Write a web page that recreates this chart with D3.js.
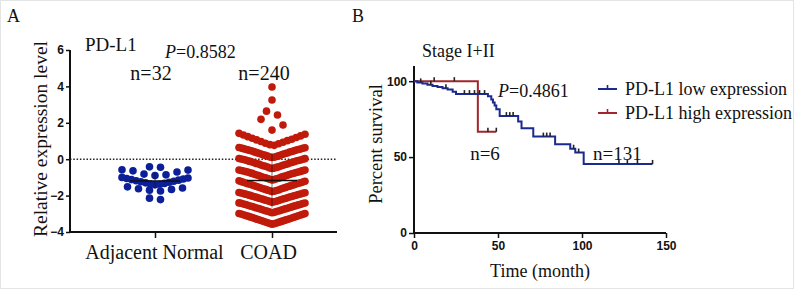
<!DOCTYPE html>
<html>
<head>
<meta charset="utf-8">
<script src="https://cdn.jsdelivr.net/npm/d3@7"></script>
<style>
  body { margin: 0; background: #fff; }
  svg { display: block; }
  .serif { font-family: "Liberation Serif", "Times New Roman", serif; fill: #111; }
</style>
</head>
<body>
<svg id="chart" width="794" height="289"></svg>
<script>
// ---- panel A data: relative expression level ----
const categories = ["Adjacent Normal", "COAD"];
const groupColors = ["#0c1f98", "#c01a0a"];

const normalValues = [
  -0.44, -0.42,
  -0.90, -0.86, -0.82, -0.70, -0.64, -0.60, -0.58,
  -1.40, -1.38, -1.36, -1.33, -1.30, -1.27, -1.24, -1.21, -1.18, -1.15, -1.12, -1.09, -1.06, -1.03, -1.00,
  -1.75, -1.70, -1.66, -1.62, -1.58, -1.52,
  -2.22, -2.14
];

const coadValues = [
  3.97, 3.25, 2.64, 2.43, 2.19, 1.88, 1.60,
  0.76, 0.80, 0.85, 0.88, 0.93, 0.97, 1.02, 1.06, 1.10, 1.15, 1.19, 1.24, 1.28, 1.33, 1.37, 1.42,
  0.09, 0.11, 0.12, 0.15, 0.17, 0.18, 0.21, 0.23, 0.24, 0.27, 0.28, 0.31, 0.33, 0.34, 0.36, 0.39,
  0.40, 0.42, 0.45, 0.46, 0.48, 0.50, 0.51, 0.53, 0.55, 0.56, 0.58, 0.60, 0.61, 0.63, 0.64,
  -0.51, -0.49, -0.48, -0.45, -0.43, -0.42, -0.39, -0.37, -0.36, -0.33, -0.32, -0.29, -0.27, -0.26, -0.24, -0.21,
  -0.20, -0.18, -0.15, -0.14, -0.12, -0.10, -0.09, -0.07, -0.05, -0.04, -0.02, 0.00, 0.01, 0.03, 0.04,
  -1.14, -1.12, -1.10, -1.08, -1.06, -1.05, -1.02, -1.00, -0.99, -0.96, -0.95, -0.92, -0.90, -0.88, -0.87, -0.84,
  -0.83, -0.80, -0.78, -0.77, -0.75, -0.73, -0.71, -0.70, -0.68, -0.67, -0.65, -0.63, -0.62, -0.60, -0.59,
  -1.78, -1.76, -1.74, -1.72, -1.70, -1.69, -1.66, -1.64, -1.62, -1.60, -1.58, -1.56, -1.54, -1.52, -1.50, -1.48,
  -1.46, -1.44, -1.42, -1.40, -1.38, -1.36, -1.35, -1.32, -1.31, -1.29, -1.27, -1.25, -1.23, -1.21, -1.19,
  -2.36, -2.34, -2.32, -2.31, -2.28, -2.27, -2.25, -2.23, -2.21, -2.19, -2.17, -2.16, -2.14, -2.12, -2.10, -2.08,
  -2.06, -2.05, -2.03, -2.01, -1.99, -1.98, -1.96, -1.94, -1.92, -1.91, -1.89, -1.87, -1.86, -1.84, -1.83,
  -2.94, -2.92, -2.90, -2.88, -2.86, -2.85, -2.83, -2.81, -2.79, -2.77, -2.75, -2.73, -2.71, -2.70, -2.68, -2.66,
  -2.64, -2.62, -2.60, -2.58, -2.57, -2.55, -2.53, -2.51, -2.49, -2.48, -2.46, -2.44, -2.42, -2.41, -2.40,
  -3.57, -3.55, -3.53, -3.51, -3.49, -3.47, -3.45, -3.43, -3.41, -3.39, -3.37, -3.35, -3.33, -3.31, -3.29, -3.27,
  -3.25, -3.23, -3.21, -3.19, -3.17, -3.15, -3.13, -3.11, -3.09, -3.07, -3.05, -3.03, -3.01, -2.99, -2.98
];

// row boundaries used by the scatter-dot layout
const normalRowBreaks = [-1.9, -1.45, -0.96, -0.5];
const coadRowBreaks = [-2.96, -2.38, -1.8, -1.16, -0.54, 0.065, 0.7, 1.5, 2.3, 2.9, 3.6];
const exprTicks = [-4, -2, 0, 2, 4, 6];

// ---- panel B data: Kaplan-Meier, stage I+II ----
const lowTimes = [0, 2, 5, 8, 11, 14, 17, 20, 23, 25, 44, 46, 47, 48, 49, 51, 62, 64, 71, 84, 93, 96, 101];
const lowSurv = [100, 99.2, 98.5, 97.7, 96.9, 96.2, 95.4, 94.6, 93.1, 91.5, 90.0, 88.0, 86.0, 84.0, 81.5, 77.0, 73.5, 69.0, 63.5, 58.5, 55.5, 53.0, 45.5];
const lowCensor = [4, 10, 19, 30, 33, 36, 39, 42, 55, 57, 59, 77, 79, 81, 95, 98, 122, 127, 133, 142];
const lowEnd = 142;

const highTimes = [0, 38];
const highSurv = [100, 66.7];
const highCensor = [12, 24, 44, 49];
const highEnd = 49;

const survTicks = [0, 50, 100];
const timeTicks = [0, 50, 100, 150];
const kmColors = { low: "#1b2a8e", high: "#a1262a" };

const svg = d3.select("#chart");
svg.append("rect").attr("x", 0.5).attr("y", 0.5).attr("width", 793).attr("height", 288)
    .attr("fill", "#fff").attr("stroke", "#e4e4e4");

function styleTicks(g) {
    g.select(".domain").remove();
    g.selectAll(".tick line").attr("stroke", "#111").attr("stroke-width", 1.5);
    g.selectAll(".tick text")
        .style("font-family", "'Liberation Sans', Arial, sans-serif")
        .style("font-weight", "bold").style("font-size", "12px").attr("fill", "#111");
}

// ================= Panel A =================
const yA = d3.scaleLinear().domain([-4, 6]).range([232, 50]);
const xA = d3.scalePoint().domain(categories).range([155, 272]);
const gA = svg.append("g");

gA.append("text").attr("class", "serif").attr("x", 7).attr("y", 22).attr("font-size", 18).text("A");

// zero reference line
gA.append("line")
    .attr("x1", 70).attr("x2", 337).attr("y1", yA(0)).attr("y2", yA(0))
    .attr("stroke", "#222").attr("stroke-width", 1.4).attr("stroke-dasharray", "1.5,1.8");

function swarm(values, breaks, cx) {
    const bins = d3.bin().domain([-10, 10]).thresholds(breaks)(values);
    const pts = [];
    bins.forEach(b => {
        const n = b.length;
        if (!n) return;
        const step = n > 1 ? Math.min(11, 66 / (n - 1)) : 0;
        const slots = d3.range(n).map(i => (i - (n - 1) / 2) * step);
        slots.sort((a, c) => Math.abs(a) - Math.abs(c) || c - a);
        b.slice().sort(d3.ascending).forEach((v, i) => pts.push({ x: cx + slots[i], v }));
    });
    return pts;
}

const groups = [
    { name: categories[0], values: normalValues, breaks: normalRowBreaks, color: groupColors[0] },
    { name: categories[1], values: coadValues, breaks: coadRowBreaks, color: groupColors[1] }
];

groups.forEach(g => {
    gA.append("g").selectAll("circle")
        .data(swarm(g.values, g.breaks, xA(g.name)))
        .join("circle")
        .attr("cx", d => d.x)
        .attr("cy", d => yA(d.v))
        .attr("r", 3.8)
        .attr("fill", g.color);
});

// mean +/- SD
groups.forEach(g => {
    const m = d3.mean(g.values), sd = d3.deviation(g.values), cx = xA(g.name);
    const eg = gA.append("g").attr("stroke", "#111").attr("stroke-width", 1.5);
    eg.append("line").attr("x1", cx - 25).attr("x2", cx + 25).attr("y1", yA(m)).attr("y2", yA(m));
    eg.append("line").attr("x1", cx).attr("x2", cx).attr("y1", yA(m - sd)).attr("y2", yA(m + sd))
        .attr("stroke-width", 0.8).attr("stroke-opacity", 0.7);
});

// axes
gA.append("g").attr("transform", "translate(70,0)")
    .call(d3.axisLeft(yA).tickValues(exprTicks).tickSize(4).tickPadding(2))
    .call(styleTicks);
gA.append("line").attr("x1", 70).attr("x2", 70).attr("y1", 50).attr("y2", 233)
    .attr("stroke", "#111").attr("stroke-width", 2);
gA.append("line").attr("x1", 69).attr("x2", 337).attr("y1", 232).attr("y2", 232)
    .attr("stroke", "#111").attr("stroke-width", 2);
gA.append("g").attr("transform", "translate(0,232)")
    .call(d3.axisBottom(xA).tickSize(6).tickPadding(7))
    .call(styleTicks)
    .call(g => g.selectAll(".tick text")
        .attr("dy", "0.71em")
        .style("font-family", "'Liberation Serif', 'Times New Roman', serif")
        .style("font-weight", "normal").style("font-size", "20px")
        .attr("dx", (d, i) => i === 0 ? -1 : -4));

gA.append("text").attr("class", "serif")
    .attr("transform", "translate(47,139) rotate(-90)")
    .attr("text-anchor", "middle").attr("font-size", 19.5).text("Relative expression level");
gA.append("text").attr("class", "serif").attr("x", 85).attr("y", 51).attr("font-size", 19).text("PD-L1");
const pA = gA.append("text").attr("class", "serif").attr("x", 165).attr("y", 58).attr("font-size", 18);
pA.append("tspan").attr("font-style", "italic").text("P");
pA.append("tspan").text("=0.8582");
gA.append("text").attr("class", "serif").attr("x", 151).attr("y", 80).attr("text-anchor", "middle")
    .attr("font-size", 20).text("n=32");
gA.append("text").attr("class", "serif").attr("x", 264).attr("y", 80).attr("text-anchor", "middle")
    .attr("font-size", 20).text("n=240");

// ================= Panel B =================
const xB = d3.scaleLinear().domain([0, 150]).range([414, 666]);
const yB = d3.scaleLinear().domain([0, 110]).range([233, 66]);
const gB = svg.append("g");

gB.append("text").attr("class", "serif").attr("x", 352).attr("y", 22).attr("font-size", 18).text("B");
gB.append("text").attr("class", "serif").attr("x", 422).attr("y", 57).attr("font-size", 18).text("Stage I+II");

gB.append("g").attr("transform", "translate(414,0)")
    .call(d3.axisLeft(yB).tickValues(survTicks).tickSize(5).tickPadding(2))
    .call(styleTicks);
gB.append("g").attr("transform", "translate(0,233)")
    .call(d3.axisBottom(xB).tickValues(timeTicks).tickSize(5).tickPadding(3))
    .call(styleTicks);
gB.append("line").attr("x1", 414).attr("x2", 414).attr("y1", 66).attr("y2", 234)
    .attr("stroke", "#111").attr("stroke-width", 2);
gB.append("line").attr("x1", 413).attr("x2", 666).attr("y1", 233).attr("y2", 233)
    .attr("stroke", "#111").attr("stroke-width", 2);

const stepLine = d3.line().x(d => xB(d[0])).y(d => yB(d[1])).curve(d3.curveStepAfter);
function survAt(times, surv, t) { return surv[d3.bisectRight(times, t) - 1]; }

const curves = [
    { times: highTimes, surv: highSurv, end: highEnd, censor: highCensor, color: kmColors.high },
    { times: lowTimes, surv: lowSurv, end: lowEnd, censor: lowCensor, color: kmColors.low }
];
curves.forEach(c => {
    const pts = c.times.map((t, i) => [t, c.surv[i]]).concat([[c.end, c.surv[c.surv.length - 1]]]);
    gB.append("path").attr("d", stepLine(pts))
        .attr("fill", "none").attr("stroke", c.color).attr("stroke-width", 2);
    gB.append("g").selectAll("line").data(c.censor).join("line")
        .attr("x1", d => xB(d)).attr("x2", d => xB(d))
        .attr("y1", d => yB(survAt(c.times, c.surv, d)))
        .attr("y2", d => yB(survAt(c.times, c.surv, d)) - 4)
        .attr("stroke", "#222").attr("stroke-width", 1.6);
});

gB.append("text").attr("class", "serif")
    .attr("transform", "translate(382,144) rotate(-90)")
    .attr("text-anchor", "middle").attr("font-size", 18.5).text("Percent survival");
gB.append("text").attr("class", "serif").attr("x", 540).attr("y", 277).attr("text-anchor", "middle")
    .attr("font-size", 18).text("Time (month)");

const pB = gB.append("text").attr("class", "serif").attr("x", 498).attr("y", 97).attr("font-size", 18);
pB.append("tspan").attr("font-style", "italic").text("P");
pB.append("tspan").text("=0.4861");
gB.append("text").attr("class", "serif").attr("x", 485).attr("y", 160).attr("text-anchor", "middle")
    .attr("font-size", 19).text("n=6");
gB.append("text").attr("class", "serif").attr("x", 593).attr("y", 160).attr("font-size", 19).text("n=131");

// legend
const legendItems = [
    { label: "PD-L1 low expression", color: kmColors.low },
    { label: "PD-L1 high expression", color: kmColors.high }
];
const lg = gB.append("g").selectAll("g").data(legendItems).join("g")
    .attr("transform", (d, i) => `translate(598,${89 + i * 24})`);
lg.append("line").attr("x1", 0).attr("x2", 19).attr("stroke", d => d.color).attr("stroke-width", 2);
lg.append("line").attr("x1", 9.5).attr("x2", 9.5).attr("y1", 0).attr("y2", -4)
    .attr("stroke", d => d.color).attr("stroke-width", 1.6);
lg.append("text").attr("class", "serif").attr("x", 27).attr("y", 6).attr("font-size", 18).text(d => d.label);
</script>
</body>
</html>
